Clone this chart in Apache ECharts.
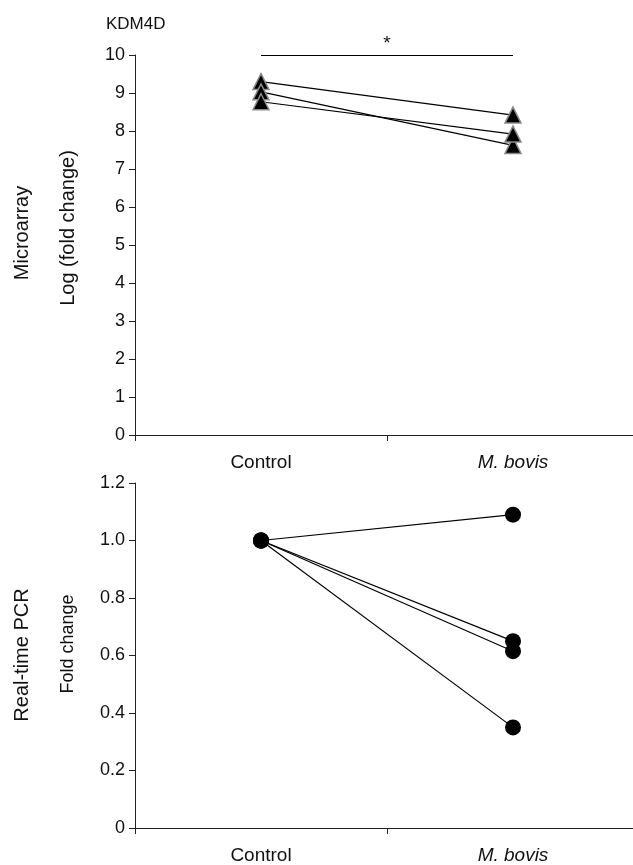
<!DOCTYPE html>
<html>
<head>
<meta charset="utf-8">
<script src="https://cdn.jsdelivr.net/npm/echarts@6/dist/echarts.min.js"></script>
<style>
html,body{margin:0;padding:0;background:#fff;overflow:hidden;}
#c{width:645px;height:865px;}
</style>
</head>
<body>
<div id="c"></div>
<script>
var categories = ['Control', 'M. bovis'];
// Microarray, log(fold change), three replicates
var microA = [9.30, 8.42];
var microB = [9.03, 7.62];
var microC = [8.77, 7.92];
var microTicks = {min: 0, max: 10, interval: 1};
var sigLevel = 10;
// Real-time PCR fold change, four replicates
var pcrA = [1.00, 1.09];
var pcrB = [1.00, 0.65];
var pcrC = [1.00, 0.615];
var pcrD = [1.00, 0.35];
var pcrTicks = {min: 0, max: 1.2, interval: 0.2};

var FONT = '"Liberation Sans", Arial, sans-serif';
var AX = '#222';
var TXT = '#111';

function xAxisCfg(gi) {
  return {
    type: 'category', gridIndex: gi, data: categories, boundaryGap: true,
    axisLine: {lineStyle: {color: AX, width: 1}},
    axisTick: {show: true, length: 6, lineStyle: {color: AX}},
    axisLabel: {
      margin: 18, fontSize: 19, color: TXT, fontFamily: FONT,
      formatter: function (v) { return v === 'M. bovis' ? '{i|' + v + '}' : v; },
      rich: {i: {fontStyle: 'italic', fontSize: 19, fontFamily: FONT, color: TXT}}
    },
    splitLine: {show: false}
  };
}
function yAxisCfg(gi, t, fmt) {
  return {
    type: 'value', gridIndex: gi, min: t.min, max: t.max, interval: t.interval,
    axisLine: {show: true, lineStyle: {color: AX, width: 1}},
    axisTick: {show: true, length: 6, lineStyle: {color: AX}},
    axisLabel: {margin: 10, fontSize: 18, color: TXT, fontFamily: FONT, formatter: fmt},
    splitLine: {show: false}
  };
}
function triSeries(d, extra) {
  var s = {
    type: 'line', xAxisIndex: 0, yAxisIndex: 0, data: d,
    symbol: 'triangle', symbolSize: 16,
    lineStyle: {color: '#000', width: 1.2},
    itemStyle: {color: '#000', borderColor: '#8a8a8a', borderWidth: 1.5},
    z: 3
  };
  if (extra) for (var k in extra) s[k] = extra[k];
  return s;
}
function dotSeries(d) {
  return {
    type: 'line', xAxisIndex: 1, yAxisIndex: 1, data: d,
    symbol: 'circle', symbolSize: 16,
    lineStyle: {color: '#000', width: 1.2},
    itemStyle: {color: '#000', borderWidth: 0},
    z: 3
  };
}

var chart = echarts.init(document.getElementById('c'));
chart.setOption({
  animation: false,
  backgroundColor: '#fff',
  grid: [
    {left: 135, top: 55, width: 504, height: 380},
    {left: 135, top: 483, width: 504, height: 345}
  ],
  xAxis: [xAxisCfg(0), xAxisCfg(1)],
  yAxis: [
    yAxisCfg(0, microTicks, function (v) { return String(v); }),
    yAxisCfg(1, pcrTicks, function (v) { return v === 0 ? '0' : v.toFixed(1); })
  ],
  series: [
    triSeries(microA, {
      markLine: {
        silent: true, symbol: 'none',
        lineStyle: {color: '#000', width: 1.2, type: 'solid'},
        label: {show: true, position: 'middle', formatter: '*', fontSize: 19, color: TXT, fontFamily: FONT, distance: 2},
        data: [[{coord: [categories[0], sigLevel]}, {coord: [categories[1], sigLevel]}]]
      }
    }),
    triSeries(microB),
    triSeries(microC),
    dotSeries(pcrA),
    dotSeries(pcrB),
    dotSeries(pcrC),
    dotSeries(pcrD)
  ],
  graphic: [
    {type: 'text', left: 106, top: 16, style: {text: 'KDM4D', fontSize: 17, fill: TXT, fontFamily: FONT}},
    {type: 'text', x: 22, y: 233, rotation: Math.PI / 2, style: {text: 'Microarray', fontSize: 20, fill: TXT, fontFamily: FONT, textAlign: 'center', textVerticalAlign: 'middle'}},
    {type: 'text', x: 68, y: 228, rotation: Math.PI / 2, style: {text: 'Log (fold change)', fontSize: 20, fill: TXT, fontFamily: FONT, textAlign: 'center', textVerticalAlign: 'middle'}},
    {type: 'text', x: 22, y: 655, rotation: Math.PI / 2, style: {text: 'Real-time PCR', fontSize: 20, fill: TXT, fontFamily: FONT, textAlign: 'center', textVerticalAlign: 'middle'}},
    {type: 'text', x: 68, y: 644, rotation: Math.PI / 2, style: {text: 'Fold change', fontSize: 18, fill: TXT, fontFamily: FONT, textAlign: 'center', textVerticalAlign: 'middle'}}
  ]
});
</script>
</body>
</html>
